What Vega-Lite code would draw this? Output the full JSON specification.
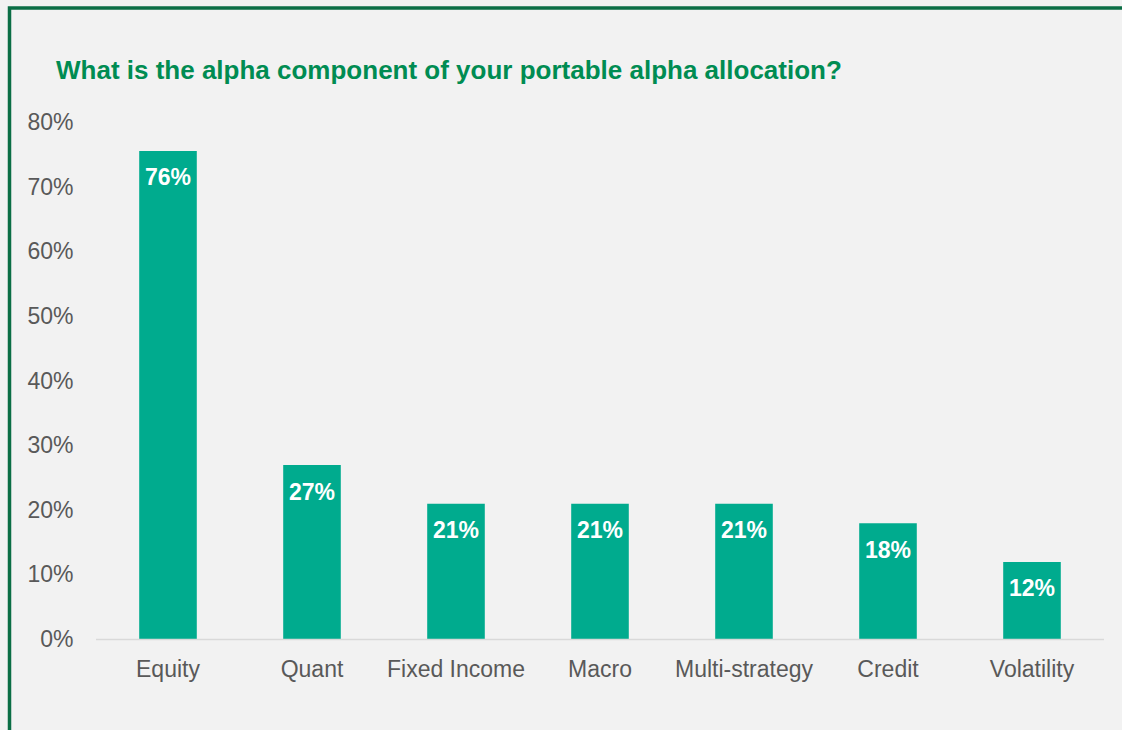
{
  "$schema": "https://vega.github.io/schema/vega-lite/v6.json",
  "autosize": {"type": "none"},
  "padding": {"left": 9.5, "top": 8, "right": 0, "bottom": 0},
  "width": 1112.5,
  "height": 722,
  "background": "#f2f2f2",
  "title": {
    "text": "What is the alpha component of your portable alpha allocation?",
    "anchor": "start",
    "frame": "group",
    "orient": "top",
    "offset": 0,
    "dx": 46.5,
    "dy": 97,
    "baseline": "alphabetic",
    "font": "Liberation Sans, Arial",
    "fontSize": 26,
    "fontWeight": "bold",
    "color": "#008c52"
  },
  "data": {
    "values": [
      {"cat": "Equity", "value": 0.756},
      {"cat": "Quant", "value": 0.27},
      {"cat": "Fixed Income", "value": 0.21},
      {"cat": "Macro", "value": 0.21},
      {"cat": "Multi-strategy", "value": 0.21},
      {"cat": "Credit", "value": 0.18},
      {"cat": "Volatility", "value": 0.12}
    ]
  },
  "encoding": {
    "x": {
      "field": "cat",
      "type": "nominal",
      "sort": null,
      "scale": {"range": [86.5, 1094.5], "paddingInner": 0.6, "paddingOuter": 0.3},
      "axis": {
        "title": null,
        "orient": "bottom",
        "offset": -90.5,
        "domain": false,
        "ticks": false,
        "tickSize": 0,
        "labelAngle": 0,
        "labelPadding": 19,
        "labelFont": "Liberation Sans, Arial",
        "labelFontSize": 23,
        "labelColor": "#595959",
        "grid": false
      }
    },
    "y": {
      "field": "value",
      "type": "quantitative",
      "scale": {"domain": [0, 0.8], "range": [631.5, 114.5], "nice": false, "zero": true},
      "axis": {
        "title": null,
        "orient": "left",
        "offset": -63.5,
        "values": [0, 0.1, 0.2, 0.3, 0.4, 0.5, 0.6, 0.7, 0.8],
        "format": ".0%",
        "domain": false,
        "ticks": false,
        "tickSize": 0,
        "labelPadding": 0,
        "labelFont": "Liberation Sans, Arial",
        "labelFontSize": 23,
        "labelColor": "#595959",
        "grid": false
      }
    }
  },
  "layer": [
    {
      "mark": {"type": "bar", "color": "#00ab8e"}
    },
    {
      "mark": {"type": "rule", "color": "#d9d9d9", "strokeWidth": 1.5},
      "encoding": {
        "x": {"field": "cat", "type": "nominal", "sort": null, "bandPosition": -0.75},
        "x2": {"field": "cat", "bandPosition": 1.75},
        "y": {"datum": 0}
      }
    },
    {
      "mark": {
        "type": "text",
        "color": "#ffffff",
        "font": "Liberation Sans, Arial",
        "fontSize": 23,
        "fontWeight": "bold",
        "baseline": "alphabetic",
        "align": "center",
        "dy": 34.5
      },
      "encoding": {
        "text": {"field": "value", "type": "quantitative", "format": ".0%"}
      }
    }
  ],
  "config": {
    "view": {
      "fill": "#f2f2f2",
      "stroke": "#0b6e45",
      "strokeWidth": 3.5,
      "strokeDash": [1112.5, 1834.5, 722],
      "strokeCap": "square"
    }
  }
}
